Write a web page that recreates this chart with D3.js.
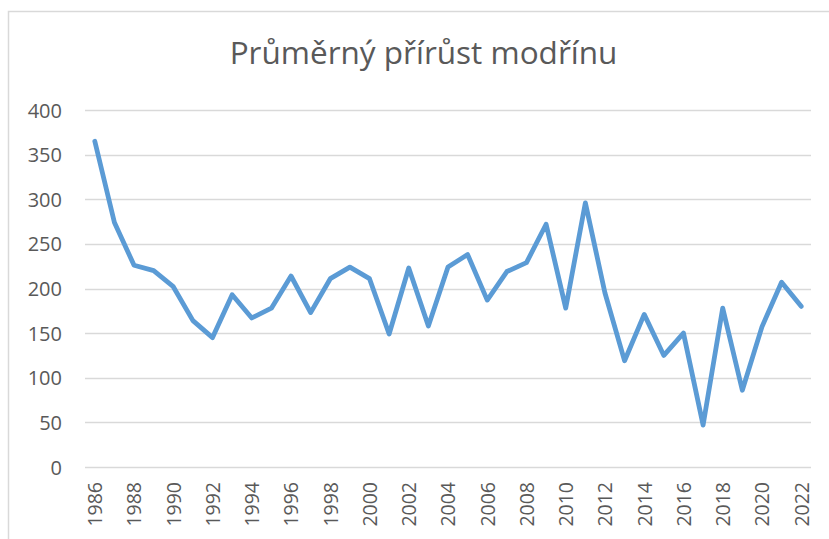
<!DOCTYPE html>
<html><head><meta charset="utf-8">
<script src="https://cdn.jsdelivr.net/npm/d3@7"></script>
<style>body{margin:0;background:#fff}svg{display:block}text{font-family:"Open Sans","Liberation Sans",Arial,sans-serif}</style>
</head><body>
<script>
const title = "Průměrný přírůst modřínu";
const years = [1986,1987,1988,1989,1990,1991,1992,1993,1994,1995,1996,1997,1998,1999,2000,2001,2002,2003,2004,2005,2006,2007,2008,2009,2010,2011,2012,2013,2014,2015,2016,2017,2018,2019,2020,2021,2022];
const values = [365,274,226,220,202,164,145,193,167,178,214,173,211,224,211,149,223,158,224,238,187,219,229,272,178,296,195,119,171,125,150,47,178,86,157,207,180];
const yTicks = [0,50,100,150,200,250,300,350,400];
const xTickYears = years.filter(y => y % 2 === 0);

const W = 829, H = 539;
const svg = d3.select("body").append("svg").attr("width", W).attr("height", H);
svg.append("rect").attr("x",0).attr("y",0).attr("width",W).attr("height",H).attr("fill","#fff");
// chart frame
svg.append("path").attr("d",`M8.5,${H}V11.5H${W}`).attr("fill","none").attr("stroke","#d9d9d9").attr("stroke-width",1.5);

const x = d3.scalePoint().domain(years).range([85, 811]).padding(0.5);
const y = d3.scaleLinear().domain([0,400]).range([467,110]);

// gridlines
svg.append("g").selectAll("line").data(yTicks).join("line")
  .attr("x1",85).attr("x2",811).attr("y1",d=>Math.round(y(d))+0.5).attr("y2",d=>Math.round(y(d))+0.5)
  .attr("stroke","#d9d9d9").attr("stroke-width",1.3);

// y axis labels
const yAxis = d3.axisLeft(y).tickValues(yTicks).tickSize(0).tickPadding(0);
const gy = svg.append("g").attr("transform","translate(62,0)").call(yAxis);
gy.select(".domain").remove();
gy.selectAll("text").attr("fill","#595959").style("font-size","20px").attr("dy","0.35em");

// x axis labels
const xAxis = d3.axisBottom(x).tickValues(xTickYears).tickSize(0).tickPadding(0);
const gx = svg.append("g").attr("transform","translate(0,478)").call(xAxis);
gx.select(".domain").remove();
gx.selectAll("text").attr("fill","#595959").style("font-size","19.5px")
  .attr("transform","rotate(-90)").attr("text-anchor","end").attr("x",-4).attr("y",0).attr("dy","0.35em");

// line
const line = d3.line().x((d,i)=>x(years[i])).y(d=>y(d));
svg.append("path").datum(values).attr("d",line).attr("fill","none")
  .attr("stroke","#5b9bd5").attr("stroke-width",4.8).attr("stroke-linejoin","round").attr("stroke-linecap","round");

// title
svg.append("text").attr("x",423.5).attr("y",64).attr("text-anchor","middle")
  .attr("fill","#595959").style("font-size","31.5px").text(title);
</script>
</body></html>
